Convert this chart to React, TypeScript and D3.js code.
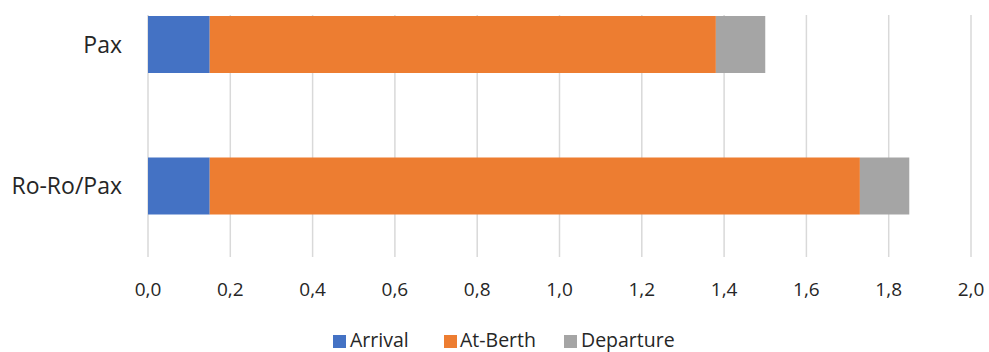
import React from "react";
import * as d3 from "d3";

const categories = ["Pax", "Ro-Ro/Pax"];
const seriesNames = ["Arrival", "At-Berth", "Departure"];
const arrival = [0.15, 0.15];
const atBerth = [1.23, 1.58];
const departure = [0.12, 0.12];
const xTicks = [0, 0.2, 0.4, 0.6, 0.8, 1.0, 1.2, 1.4, 1.6, 1.8, 2.0];
const colors = ["#4472C4", "#ED7D31", "#A5A5A5"];

export default function App() {
  const W = 989, H = 352;
  const x = d3.scaleLinear().domain([0, 2]).range([148, 971]);
  const y = d3.scalePoint<string>().domain(categories).range([44.5, 186]);
  const barH = 57;
  const rows = categories.map((c, i) => ({ cat: c, Arrival: arrival[i], "At-Berth": atBerth[i], Departure: departure[i] }));
  const stack = d3.stack<any>().keys(seriesNames)(rows);
  const font = "Open Sans, Liberation Sans, sans-serif";
  const fmt = (v: number) => v.toFixed(1).replace(".", ",");
  const legendItems = [
    { name: "Arrival", x: 333, tx: 350 },
    { name: "At-Berth", x: 444, tx: 460 },
    { name: "Departure", x: 564, tx: 581 },
  ];
  return (
    <svg width={W} height={H} style={{ position: "absolute", left: 0, top: 0, background: "#fff" }}>
      <rect width={W} height={H} fill="#fff" />
      {xTicks.map((t) => (
        <line key={t} x1={x(t)} x2={x(t)} y1={15} y2={257} stroke="#d9d9d9" strokeWidth={1.5} />
      ))}
      {stack.map((s, si) => (
        <g key={s.key} fill={colors[si]}>
          {s.map((d, i) => (
            <rect key={i} x={x(d[0])} width={x(d[1]) - x(d[0])} y={(y(categories[i]) as number) - barH / 2} height={barH} />
          ))}
        </g>
      ))}
      {categories.map((c) => (
        <text key={c} x={122} y={y(c) as number} dy="0.35em" textAnchor="end" fontFamily={font} fontSize={23} fill="#262626">
          {c}
        </text>
      ))}
      {xTicks.map((t) => (
        <text key={t} x={x(t)} y={289.5} dy="0.35em" textAnchor="middle" fontFamily={font} fontSize={19} fill="#262626">
          {fmt(t)}
        </text>
      ))}
      {legendItems.map((l, i) => (
        <g key={l.name}>
          <rect x={l.x} y={335} width={13} height={13} fill={colors[i]} />
          <text x={l.tx} y={346.5} fontFamily={font} fontSize={19.5} fill="#262626">
            {l.name}
          </text>
        </g>
      ))}
    </svg>
  );
}
